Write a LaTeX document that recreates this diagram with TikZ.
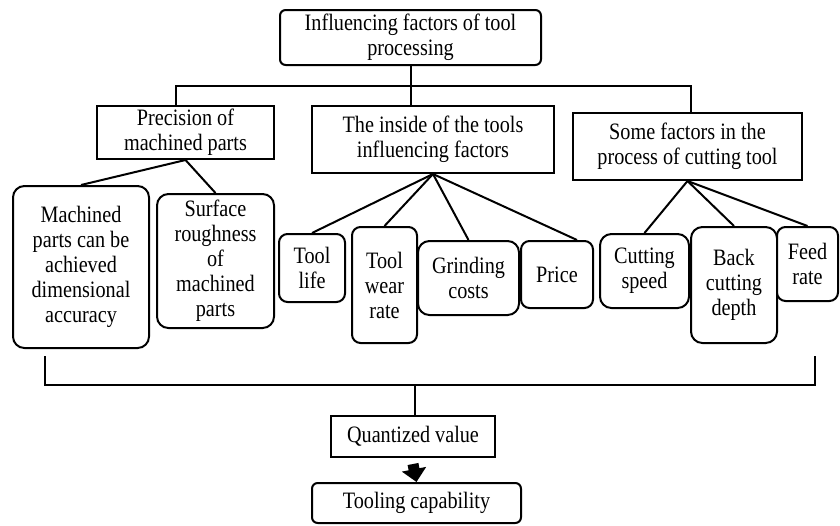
\documentclass[tikz,border=0pt]{standalone}
\usepackage{fontspec}
\setmainfont{Liberation Serif}[FakeStretch=0.86]
\usepackage{tikz}
\usetikzlibrary{arrows.meta,calc}
\tikzset{
  group/.style={draw, line width=2pt, fill=white, inner sep=0pt, align=center, font=\fontsize{23.5}{25}\selectfont},
  factor/.style={group, rounded corners=4mm},
  headbox/.style={group, rounded corners=2mm},
  link/.style={line width=2pt},
  bigarrow/.style={-{Triangle[width=24pt,length=13pt]}, line width=11pt},
}
\begin{document}
\begin{tikzpicture}[x=1pt,y=-1pt]
  \useasboundingbox (0,0) rectangle (840,525);
  % top level
  \node[headbox, minimum width=261pt, minimum height=55pt] (top) at (410.5,37.5) {Influencing factors of tool\\processing};
  \node[group, minimum width=177pt, minimum height=53pt] (prec) at (185.5,132.5) {Precision of\\machined parts};
  \node[group, minimum width=242pt, minimum height=67pt] (inside) at (433,139.5) {The inside of the tools\\influencing factors};
  \node[group, minimum width=229pt, minimum height=67pt] (some) at (687.5,146.5) {Some factors in the\\process of cutting tool};
  % leaves
  \node[factor, minimum width=136pt, minimum height=162pt] (mach) at (81,267) {Machined\\parts can be\\achieved\\dimensional\\accuracy};
  \node[factor, minimum width=117pt, minimum height=134pt] (surf) at (215.5,261) {Surface\\roughness\\of\\machined\\parts};
  \node[factor, rounded corners=3mm, minimum width=66pt, minimum height=68pt] (life) at (312,268) {Tool\\life};
  \node[factor, rounded corners=3mm, minimum width=65pt, minimum height=116pt] (wear) at (384.5,285) {Tool\\wear\\rate};
  \node[factor, minimum width=101pt, minimum height=74pt] (grind) at (468.5,278) {Grinding\\costs};
  \node[factor, rounded corners=3mm, minimum width=72pt, minimum height=67pt] (price) at (557,274.5) {Price};
  \node[factor, minimum width=89pt, minimum height=74pt] (speed) at (644.5,271) {Cutting\\speed};
  \node[factor, minimum width=86pt, minimum height=116pt] (back) at (734,285) {Back\\cutting\\depth};
  \node[factor, rounded corners=3mm, minimum width=61pt, minimum height=74pt] (feed) at (807.5,264) {Feed\\rate};
  % bottom
  \node[group, minimum width=164pt, minimum height=41pt] (quant) at (413,436.5) {Quantized value};
  \node[headbox, minimum width=209pt, minimum height=40pt] (tool) at (416.5,503) {Tooling capability};
  % connectors
  \coordinate (busL) at (176,86);
  \coordinate (busR) at (691,86);
  \draw[link] (top.south) -- (top.south |- inside.north);
  \draw[link] (busL |- prec.north) -- (busL) -- (busR) -- (busR |- some.north);
  \draw[link] (prec.south) -- (mach.north);
  \draw[link] (prec.south) -- (surf.north);
  \draw[link] (inside.south) -- (life.north);
  \draw[link] (inside.south) -- (wear.north);
  \draw[link] (inside.south) -- (grind.north);
  \draw[link] (inside.south) -- ([xshift=20pt]price.north);
  \draw[link] (some.south) -- (speed.north);
  \draw[link] (some.south) -- (back.north);
  \draw[link] (some.south) -- (feed.north);
  \coordinate (brL) at (45,356);
  \coordinate (brR) at (815,356);
  \coordinate (brM) at (415,385);
  \draw[link] (brL) |- (brM) -| (brR);
  \draw[link] (brM) -- (brM |- quant.north);
  \draw[bigarrow] ([yshift=-6pt]quant.south) -- (tool.north);
\end{tikzpicture}
\end{document}
